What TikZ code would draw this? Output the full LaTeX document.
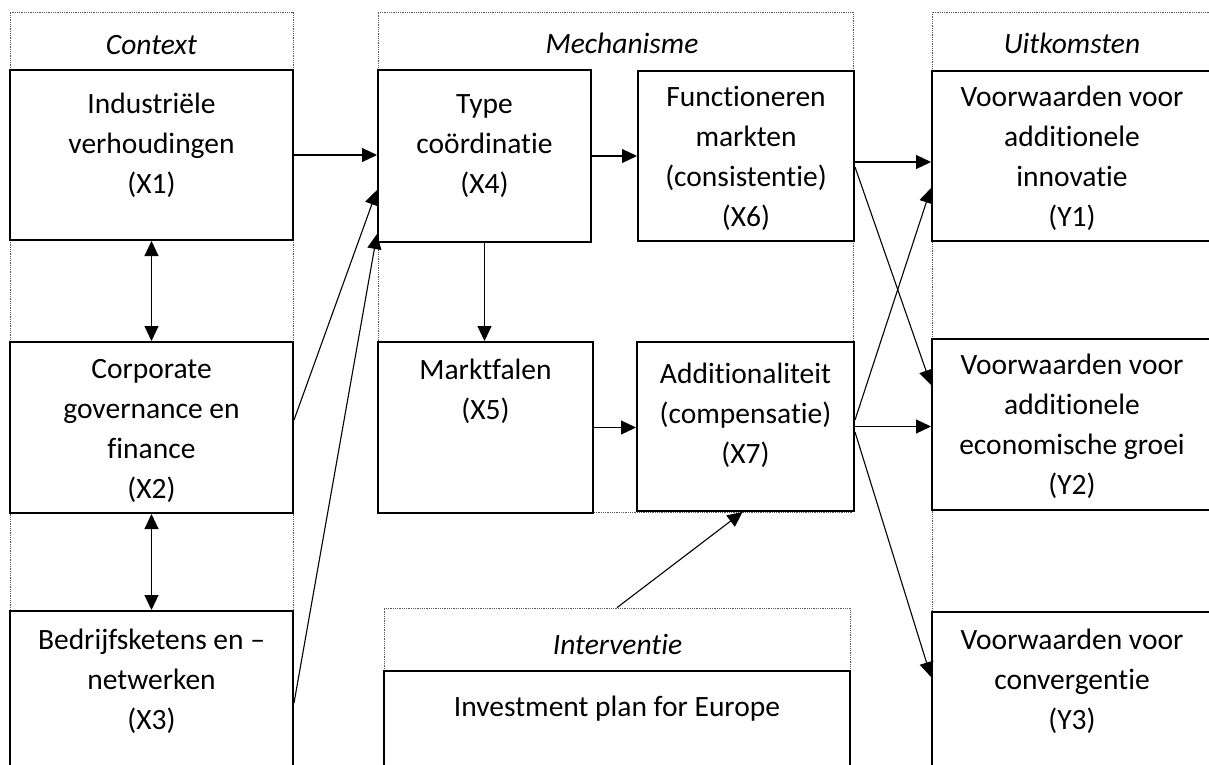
\documentclass[tikz,border=0pt]{standalone}
\usepackage{fontspec}
\setmainfont{Carlito}[Ligatures={NoCommon}]
\usetikzlibrary{arrows.meta,fit}

\tikzset{
  frame/.style={draw=black!65, densely dotted, line width=0.8pt, inner sep=0pt},
  block/.style={draw=black, line width=2pt, fill=white, inner sep=0pt},
  % anchor=base sits on the baseline of the last line
  txt/.style={align=center, inner sep=0pt, anchor=base,
    font=\fontsize{29.5}{40}\selectfont},
  head/.style={txt, font=\fontsize{29.5}{40}\selectfont\itshape},
  tip/.style={-{Triangle[length=15pt,width=14pt]}, line width=1.1pt},
  twotip/.style={{Triangle[length=15pt,width=14pt]}-{Triangle[length=15pt,width=14pt]}, line width=1.1pt}
}

\begin{document}
\begin{tikzpicture}[x=1pt,y=-1pt]
\useasboundingbox (0,0) rectangle (1209,764);
\clip (0,0) rectangle (1209,764);

% column frames
\node[frame, fit={(10,12) (293,820)}] (ctx) {};
\node[frame, fit={(378,12) (853,512)}] (mech) {};
\node[frame, fit={(932,12) (1212,820)}] (uit) {};
\node[frame, fit={(384,608) (850,820)}] (intv) {};

\node[head] (ctxh)  at (151.5,54) {Context};
\node[head] (mechh) at (622,53)   {Mechanisme};
\node[head] (uith)  at (1072,53)  {Uitkomsten};
\node[head] (intvh) at (617.5,654) {Interventie};

% blocks
\node[block, fit={(10,70) (293,240)}]   (x1) {};
\node[block, fit={(10,342) (293,513)}]  (x2) {};
\node[block, fit={(10,611) (293,820)}]  (x3) {};
\node[block, fit={(378,70) (591,242)}]  (x4) {};
\node[block, fit={(638,71) (854,241)}]  (x6) {};
\node[block, fit={(378,342) (593,513)}] (x5) {};
\node[block, fit={(637,342) (854,511)}] (x7) {};
\node[block, fit={(932,71) (1212,241)}] (y1) {};
\node[block, fit={(932,339) (1212,510)}] (y2) {};
\node[block, fit={(932,612) (1212,820)}] (y3) {};
\node[block, fit={(384,671) (850,820)}] (ipe) {};

% block texts
\node[txt] (x1t) at (151.5,193) {Industriële\\verhoudingen\\(X1)};
\node[txt] (x2t) at (151.5,498) {Corporate\\governance en\\finance\\(X2)};
\node[txt] (x3t) at (151.5,729) {Bedrijfsketens en –\\netwerken\\(X3)};
\node[txt] (x4t) at (484.5,193) {Type\\coördinatie\\(X4)};
\node[txt] (x6t) at (746,226)   {Functioneren\\markten\\(consistentie)\\(X6)};
\node[txt] (x5t) at (485.5,419) {Marktfalen\\(X5)};
\node[txt] (x7t) at (745.5,463) {Additionaliteit\\(compensatie)\\(X7)};
\node[txt] (y1t) at (1072,226)  {Voorwaarden voor\\additionele\\innovatie\\(Y1)};
\node[txt] (y2t) at (1072,494)  {Voorwaarden voor\\additionele\\economische groei\\(Y2)};
\node[txt] (y3t) at (1072,729)  {Voorwaarden voor\\convergentie\\(Y3)};
\node[txt] (ipet) at (617,716)  {Investment plan for Europe};

% connectors
\draw[tip] (x1.east) -- (x1.east -| x4.west);
\draw[tip] ([yshift=7.5pt]x2.east) -- ([yshift=-34pt]x4.west);
\draw[tip] ([yshift=12.5pt]x3.east) -- ([yshift=-78pt]x4.west);
\draw[twotip] (x1.south) -- (x2.north);
\draw[twotip] (x2.south) -- (x3.north);
\draw[tip] (x4.south) -- (x4.south |- x5.north);
\draw[tip] (x4.east) -- (x4.east -| x6.west);
\draw[tip] (x5.east) -- (x5.east -| x7.west);
\draw[tip] ([yshift=-6pt]x6.east) -- ([yshift=-6pt]x6.east -| y1.west);
\draw[tip] ([yshift=-11pt]x6.east) -- ([yshift=39.5pt]y2.west);
\draw[tip] ([yshift=6.5pt]x7.east) -- ([yshift=-32pt]y1.west);
\draw[tip] (x7.east) -- (x7.east -| y2.west);
\draw[tip] ([yshift=-5.5pt]x7.east) -- ([yshift=39pt]y3.west);
\draw[tip] (intv.north) -- ([xshift=-3pt]x7.south);
\end{tikzpicture}
\end{document}
